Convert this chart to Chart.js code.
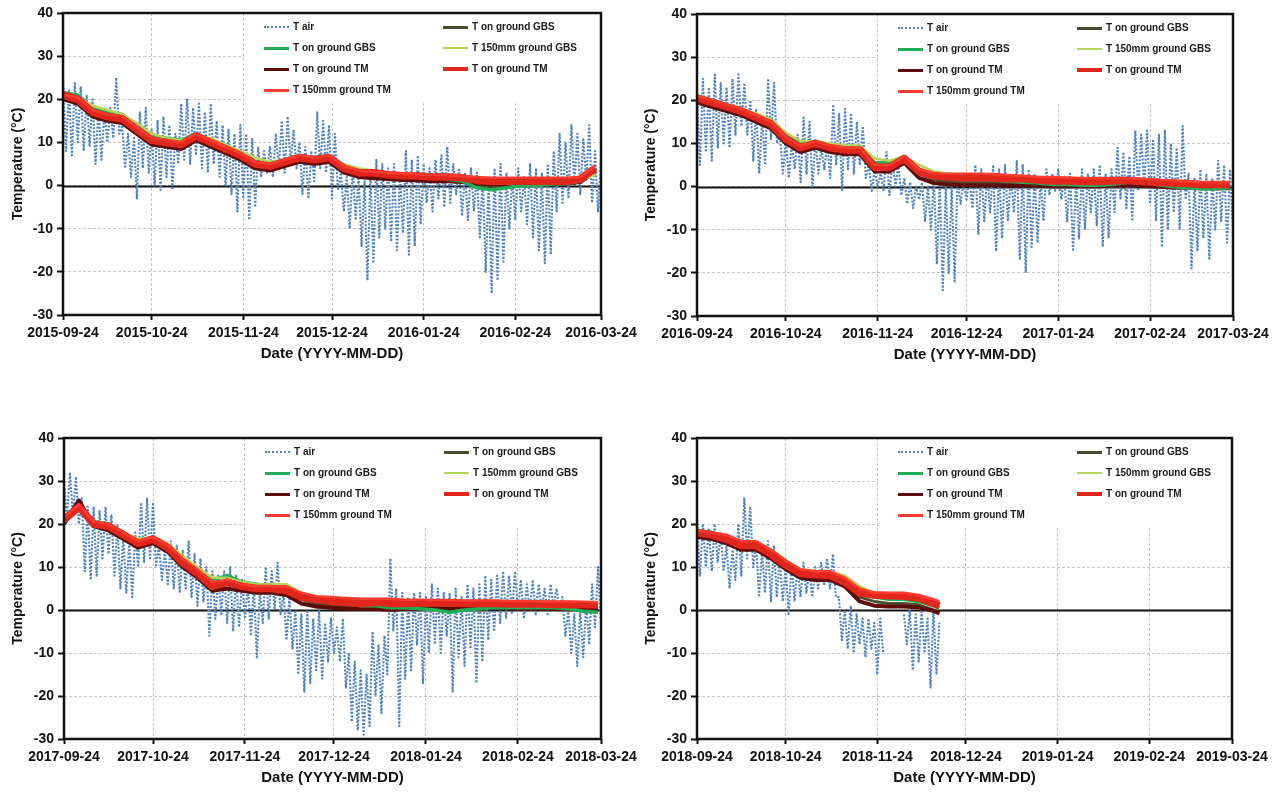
<!DOCTYPE html>
<html>
<head>
<meta charset="utf-8">
<title>Air and ground temperatures, four winters</title>
<script src="https://cdn.jsdelivr.net/npm/chart.js@4.4.1/dist/chart.umd.min.js"></script>
<style>
  html, body { margin: 0; padding: 0; background: #fff; }
  body { width: 1278px; height: 794px; position: relative; overflow: hidden;
         font-family: "Liberation Sans", Arial, sans-serif; }
  canvas { position: absolute; }
  .lg { position: absolute; height: 12px; line-height: 12px; white-space: nowrap;
        font: bold 10px "Liberation Sans", Arial, sans-serif; color: #1a1a1a; }
  .lg .s { position: absolute; left: 0; width: 25px; height: 0; }
  .lg .t { position: absolute; left: 29px; top: 0; }
</style>
</head>
<body>
<canvas id="c1"></canvas>
<canvas id="c2"></canvas>
<canvas id="c3"></canvas>
<canvas id="c4"></canvas>
<div id="legends"></div>
<script>
// ---- data (x = days after the 24 Sep start) ----

const legendNames = ['T air', 'T on ground GBS', 'T on ground GBS', 'T 150mm ground GBS',
                     'T on ground TM', 'T on ground TM', 'T 150mm ground TM'];

const tickLabels1 = ['2015-09-24', '2015-10-24', '2015-11-24', '2015-12-24', '2016-01-24', '2016-02-24', '2016-03-24'];
const tickLabels2 = ['2016-09-24', '2016-10-24', '2016-11-24', '2016-12-24', '2017-01-24', '2017-02-24', '2017-03-24'];
const tickLabels3 = ['2017-09-24', '2017-10-24', '2017-11-24', '2017-12-24', '2018-01-24', '2018-02-24', '2018-03-24'];
const tickLabels4 = ['2018-09-24', '2018-10-24', '2018-11-24', '2018-12-24', '2019-01-24', '2019-02-24', '2019-03-24'];
const tickDays1 = [0, 30, 61, 91, 122, 153, 182];
const tickDays2 = [0, 30, 61, 91, 122, 153, 181];
const tickDays3 = [0, 30, 61, 91, 122, 153, 181];
const tickDays4 = [0, 30, 61, 91, 122, 153, 181];
const yTicks = [-30, -20, -10, 0, 10, 20, 30, 40];

// T air, one reading per day (day highs / night lows alternate)
const air1 = [25, 8, 22, 7, 24, 10, 23, 8, 21, 9,
  20, 5, 18, 6, 17, 10, 18, 11, 25, 12,
  14, 4, 12, 2, 11, -3, 17, 4, 18, 3,
  13, 0, 15, -1, 16, 2, 14, -1, 12, 5,
  19, 6, 20, 5, 18, 7, 19, 4, 17, 3,
  19, 5, 15, 2, 14, 0, 13, -2, 12, -6,
  14, -3, 12, -8, 11, -5, 9, 2, 8, 3,
  9, 2, 12, 4, 15, 3, 16, 5, 13, 4,
  10, -2, 9, -3, 8, 1, 17, 4, 15, 3,
  14, -3, 12, -1, 3, -6, 2, -10, 4, -8,
  2, -14, 1, -22, 3, -18, 6, -12, 5, -10,
  4, -13, 5, -15, 3, -11, 8, -16, 6, -14,
  7, -9, 5, -4, 4, -6, 6, -3, 7, -5,
  9, -4, 5, -2, 4, -7, 3, -8, 4, -6,
  3, -12, 2, -20, 1, -25, 4, -22, 5, -18,
  3, -10, 2, -8, 4, -6, 2, -9, 5, -12,
  4, -15, 3, -18, 5, -16, 8, -6, 12, -4,
  10, -3, 14, 0, 12, -2, 11, 1, 14, -4,
  8, -6, 6];
const air2 = [22, 5, 25, 8, 23, 6, 26, 9, 24, 10,
  23, 9, 25, 12, 26, 14, 24, 12, 20, 6,
  18, 3, 16, 5, 25, 11, 24, 10, 12, 3,
  11, 2, 10, 4, 12, 1, 16, 3, 15, 0,
  11, 3, 9, 4, 10, 2, 19, 5, 17, -1,
  18, 4, 17, 3, 15, 5, 14, 2, 5, -1,
  4, 0, 3, -1, 8, -2, 6, 0, 5, -2,
  2, -4, 1, -5, 0, -3, 1, -8, 0, -10,
  2, -18, 1, -24, 0, -20, 0, -22, 2, -4,
  1, -3, 2, -5, 5, -11, 4, -8, 3, -6,
  5, -15, 4, -12, 5, -8, 3, -6, 6, -17,
  5, -20, 4, -14, 3, -13, 2, -8, 4, -2,
  3, -1, 4, -3, 2, -8, 3, -15, 2, -12,
  4, -10, 3, -6, 4, -9, 5, -14, 3, -12,
  4, -6, 9, -3, 8, -5, 7, -8, 13, -1,
  12, 0, 13, -4, 11, -8, 12, -14, 13, -10,
  10, -6, 9, -10, 14, -3, 3, -19, 2, -15,
  4, -12, 3, -17, 2, -10, 6, -8, 5, -13,
  4, -10];
const air3 = [30, 21, 32, 22, 31, 20, 26, 9, 24, 7,
  24, 8, 23, 12, 24, 13, 22, 8, 20, 5,
  17, 4, 16, 3, 18, 10, 25, 11, 26, 12,
  25, 10, 15, 7, 14, 6, 16, 5, 15, 4,
  14, 5, 16, 3, 13, 1, 12, 2, 10, -6,
  9, -2, 8, -1, 9, -3, 10, -5, 8, -4,
  7, -2, 6, -6, 6, -11, 5, -3, 10, -2,
  9, 0, 11, -1, 4, -7, 3, -9, 0, -15,
  -1, -19, 0, -17, -2, -14, 0, -16, -3, -12,
  -2, -10, -4, -12, -2, -18, -10, -26, -12, -28,
  -14, -29, -15, -27, -5, -20, -8, -24, -6, -15,
  12, -5, 5, -27, 4, -16, 3, -14, 4, -8,
  4, -17, 3, -10, 6, -8, 5, -10, 4, -6,
  4, -19, 5, -11, 3, -13, 6, -9, 5, -17,
  6, -12, 8, -7, 7, -5, 8, -3, 9, -2,
  8, -1, 9, 0, 7, -2, 6, 0, 7, -1,
  6, 0, 5, -1, 6, 1, 5, 0, 3, -6,
  0, -10, -1, -13, 0, -11, 2, -8, 6, -4,
  10, -3];
const air4 = [21, 8, 20, 10, 19, 9, 20, 11, 18, 9,
  15, 5, 14, 7, 20, 8, 26, 12, 24, 10,
  15, 3, 14, 4, 16, 2, 15, 3, 12, 2,
  10, -1, 11, 2, 10, 3, 11, 4, 9, 3,
  10, 5, 11, 6, 12, 5, 13, 3, 3, -7,
  0, -9, 1, -10, -1, -8, -2, -11, -2, -9,
  -3, -15, -2, -10, null, null, null, null, null, null,
  -1, -8, 0, -14, -1, -12, 0, -10, -2, -18,
  0, -15, -3];

// ground sensors, one reading every 5 days
const gDays1 = [0, 5, 10, 15, 20, 25, 30, 35, 40, 45, 50, 55, 60, 65, 70, 75, 80, 85, 90,
  95, 100, 105, 110, 115, 120, 125, 130, 135, 140, 145, 150, 155, 160, 165, 170, 175, 180];
const gDays2 = gDays1;
const gDays3 = gDays1;
const gDays4 = [0, 5, 10, 15, 20, 25, 30, 35, 40, 45, 50, 55, 60, 65, 70, 75, 80, 82];

const gbsA1 = [20.5, 19.5, 17, 16, 15, 12.5, 10, 9.5, 9, 11, 9.5, 8, 6.5, 4.5, 4, 5, 6, 5.5, 6,
  3.5, 2.5, 2.2, 2, 1.8, 1.6, 1.5, 1.3, 1, 0, -0.5, 0, 0.2, 0.3, 0.3, 0.5, 0.8, 3];
const gbsB1 = [21.5, 21, 18, 17, 16.5, 14, 11.5, 11, 10.5, 12, 10.5, 9, 7.5, 5.5, 5, 6, 7, 6.5, 7,
  4.5, 3.5, 3, 2.5, 2.3, 2, 2, 1.5, 1, -0.5, -1, -0.5, 0, 0, 0.3, 0.5, 1, 3];
const gbs150_1 = [21, 20.5, 18.5, 17.5, 16.5, 14.5, 12, 11, 10.5, 11.5, 11, 9.5, 8, 6.5, 5.5, 6, 6.5, 6.5, 6.5,
  5, 4, 3.5, 3, 2.8, 2.6, 2.5, 2.3, 2.1, 1.5, 1.2, 1.2, 1.2, 1.2, 1.2, 1.2, 1.3, 2.5];
const tmA1 = [20, 19, 16, 15, 14.5, 12, 9.5, 9, 8.5, 10.5, 9, 7.5, 6, 4, 3.5, 4.5, 5.5, 5, 5.5,
  3, 2, 1.7, 1.5, 1.3, 1.2, 1, 1, 0.8, 0.5, 0.3, 0.3, 0.3, 0.3, 0.3, 0.5, 0.8, 3.5];
const tmB1 = [21, 20, 17, 16, 15.5, 13, 10.5, 10, 9.5, 11.5, 10, 8.5, 7, 5, 4.5, 5.5, 6.5, 6, 6.5,
  4, 3, 3, 2.5, 2.3, 2.2, 2, 2, 1.8, 1.2, 1, 1, 1, 1, 1, 1, 1.5, 4];
const tm150_1 = [21, 20.5, 17.5, 16.5, 16, 13.5, 11, 10.5, 10, 12, 10.5, 9, 7.5, 5.5, 5, 6, 7, 6.5, 7,
  4.5, 3.5, 3.2, 3, 2.8, 2.6, 2.5, 2.4, 2.2, 2, 1.8, 1.8, 1.8, 1.8, 1.8, 1.8, 2, 4.5];

const gbsA2 = [20, 19, 18, 17, 15.5, 14, 10.5, 8.5, 9.5, 8.5, 8, 8, 4, 4, 6, 3, 1.5, 1.2, 1,
  0.8, 0.8, 0.6, 0.5, 0.4, 0.3, 0.3, 0.3, 0.3, 0.4, 0.5, 0.5, 0.3, 0.1, 0, 0, 0, 0];
const gbsB2 = [21, 20, 19, 18, 16.5, 15.5, 12, 10, 10.5, 9.5, 9, 9, 5.5, 5.5, 7, 4, 2.5, 2, 1.5,
  1.5, 1.5, 1.3, 1, 0.8, 0.5, 0.5, 0.3, 0.3, 0.5, 1, 1.5, 0.5, 0, -0.3, -0.5, -0.5, -0.3];
const gbs150_2 = [20.5, 20, 19, 18, 17, 15.5, 12.5, 10.5, 10.5, 10, 9.5, 9.5, 6.5, 6, 7, 5, 3.5, 3, 3,
  2.8, 2.7, 2.5, 2.3, 2, 1.8, 1.7, 1.6, 1.5, 1.5, 1.5, 1.5, 1.3, 1.2, 1.1, 1, 1, 1];
const tmA2 = [19.5, 18.5, 17.5, 16.5, 15, 13.5, 10, 8, 9, 8, 7.5, 7.5, 3.5, 3.5, 5.5, 2, 0.8, 0.5, 0.3,
  0.3, 0.3, 0.2, 0.2, 0.2, 0.1, 0.1, 0.1, 0.1, 0.2, 0.3, 0.2, 0, -0.2, -0.3, -0.4, -0.4, -0.4];
const tmB2 = [20.5, 19.5, 18.5, 17.5, 16, 14.5, 11, 9, 10, 9, 8.5, 8.5, 4.5, 4.5, 6.5, 3.5, 2.5, 2.2, 2,
  2, 2, 1.8, 1.8, 1.5, 1.3, 1.3, 1.2, 1.2, 1.3, 1.4, 1.2, 1, 0.8, 0.7, 0.5, 0.5, 0.5];
const tm150_2 = [21, 20, 19, 18, 16.5, 15, 11.5, 9.5, 10.5, 9.5, 9, 9, 5, 5, 7, 4, 3, 3, 3,
  3, 2.9, 2.7, 2.5, 2.3, 2.2, 2.1, 2, 2, 2, 2, 1.8, 1.6, 1.4, 1.2, 1, 1, 1];

const gbsA3 = [20.5, 24, 19.5, 19, 17, 15, 16, 14, 10.5, 8, 5, 6, 5, 4.5, 4.5, 4, 2.5, 1.5, 1,
  0.8, 0.6, 0.6, 0.2, 0.5, 0.5, 0.5, 0.5, 0.5, 0.6, 0.6, 0.6, 0.6, 0.6, 0.5, 0.5, 0.4, 0.4];
const gbsB3 = [21, 24, 20.5, 20, 18, 16, 17, 15, 12, 9.5, 7, 8, 6.5, 6, 5.5, 5.5, 3.5, 2.5, 2,
  1.5, 1, 1, 0.5, 0.5, 0.3, 0, -0.5, 0, 0.3, 0.5, 0.5, 0.5, 0.5, 0.5, 0.3, -0.3, -0.5];
const gbs150_3 = [20.5, 23, 20.5, 20, 18, 16.5, 17, 15.5, 12.5, 10, 7.5, 7.5, 6.5, 6, 6, 6, 4, 3, 2.5,
  2.3, 2, 2, 2, 1.8, 1.8, 1.8, 1.8, 1.8, 1.8, 1.8, 1.7, 1.7, 1.6, 1.6, 1.5, 1.5, 1.5];
const tmA3 = [20, 25.5, 19.5, 18.5, 16.5, 14.5, 15.5, 13.5, 10, 7.5, 4.5, 5, 4.5, 4, 4, 3.5, 1.5, 0.8, 0.5,
  0.3, 0.3, 0.3, 0, 0.3, 0.3, 0.3, 0.3, 0.3, 0.4, 0.4, 0.4, 0.3, 0.3, 0.3, 0.2, 0.2, 0.2];
const tmB3 = [21, 24, 20, 19.5, 17.5, 15.5, 16.5, 14.5, 11, 8.5, 5.5, 6.5, 5.5, 5, 5, 4.5, 3, 2.5, 2,
  1.8, 1.5, 1.8, 1.5, 1.5, 1.6, 1.6, 1.6, 1.5, 1.5, 1.5, 1.4, 1.4, 1.4, 1.3, 1.3, 1.2, 1.2];
const tm150_3 = [21.5, 24.5, 20.5, 20, 18, 16, 17, 15, 12, 9.5, 6.5, 7, 6, 5.5, 5.5, 5.5, 4, 3.2, 3,
  2.8, 2.6, 2.6, 2.6, 2.4, 2.4, 2.3, 2.3, 2.2, 2.2, 2.2, 2.1, 2.1, 2, 2, 2, 1.9, 1.8];

const gbsA4 = [17.5, 17, 16, 14.5, 14.5, 12.5, 10, 8, 7.5, 7.5, 6, 3, 2, 1.5, 1.5, 1.2, 0, -0.5];
const gbsB4 = [18.5, 18, 17, 15.5, 15.5, 14, 11.5, 9, 8.5, 8.5, 7.5, 4.5, 3, 2.5, 2.5, 2, 1, 0.5];
const gbs150_4 = [18, 17.5, 17, 15.5, 15.5, 14, 11.5, 9.5, 9, 9, 8, 5.5, 4, 3.5, 3.5, 3, 2, 1.5];
const tmA4 = [17, 16.5, 15.5, 14, 14, 12, 9.5, 7.5, 7, 7, 5.5, 2, 1, 0.8, 0.8, 0.6, -0.2, -0.8];
const tmB4 = [18, 17.5, 16.5, 15, 15, 13, 10.5, 8.5, 8.2, 8, 6.5, 4, 3.5, 3.3, 3.2, 2.8, 1.5, 1];
const tm150_4 = [18.5, 18, 17.5, 16, 16, 14, 11.5, 9.5, 9, 9, 7.5, 5, 4, 4, 4, 3.5, 2.5, 2];

// ---- presentation ----

const FONT = '"Liberation Sans", Arial, sans-serif';
Chart.defaults.font.family = FONT;
Chart.defaults.color = '#111';

// colour / width / draw order per series (same order as legendNames)
const looks = [
  {color: '#4f81bd', w: 2.1, dash: [2, 1.6], order: 7, key: 2},
  {color: '#4d4d30', w: 3,   order: 6, key: 3},
  {color: '#1fae55', w: 3.5, order: 4, key: 3},
  {color: '#b5d55a', w: 2.5, order: 3, key: 2},
  {color: '#5e0b0b', w: 4,   order: 5, key: 3},
  {color: '#e3261b', w: 7.5, order: 2, key: 4},
  {color: '#ff3b30', w: 2.5, order: 1, key: 3}
];

const panels = [
  {id: 'c1', left: 0,   top: 0,   w: 650, h: 365, padTop: 13, padRight: 49, axisW: 63, yTitlePad: 10,
   labels: tickLabels1, days: tickDays1, air: air1, gDays: gDays1, ground: [gbsA1, gbsB1, gbs150_1, tmA1, tmB1, tm150_1]},
  {id: 'c2', left: 640, top: 0,   w: 638, h: 366, padTop: 14, padRight: 45, axisW: 57, yTitlePad: 3,
   labels: tickLabels2, days: tickDays2, air: air2, gDays: gDays2, ground: [gbsA2, gbsB2, gbs150_2, tmA2, tmB2, tm150_2]},
  {id: 'c3', left: 0,   top: 420, w: 650, h: 369, padTop: 18, padRight: 49, axisW: 64, yTitlePad: 10,
   labels: tickLabels3, days: tickDays3, air: air3, gDays: gDays3, ground: [gbsA3, gbsB3, gbs150_3, tmA3, tmB3, tm150_3]},
  {id: 'c4', left: 640, top: 420, w: 638, h: 369, padTop: 18, padRight: 46, axisW: 57, yTitlePad: 3,
   labels: tickLabels4, days: tickDays4, air: air4, gDays: gDays4, ground: [gbsA4, gbsB4, gbs150_4, tmA4, tmB4, tm150_4]}
];

// white legend backdrop, zero line and the black frame
const framePlugin = {
  id: 'frame',
  beforeDatasetsDraw(chart) {
    const {ctx, chartArea: a, scales: {y}} = chart;
    ctx.save();
    ctx.fillStyle = '#fff';
    ctx.fillRect(a.left + 181, a.top + 1, a.right - a.left - 182, 88);
    const y0 = Math.round(y.getPixelForValue(0)) + 0.5;
    ctx.strokeStyle = '#111';
    ctx.lineWidth = 2.2;
    ctx.beginPath();
    ctx.moveTo(a.left, y0);
    ctx.lineTo(a.right, y0);
    ctx.stroke();
    ctx.restore();
  },
  afterDatasetsDraw(chart) {
    const {ctx, chartArea: a} = chart;
    ctx.save();
    ctx.strokeStyle = '#111';
    ctx.lineWidth = 2.5;
    ctx.strokeRect(a.left, a.top, a.right - a.left, a.bottom - a.top);
    ctx.restore();
  }
};

const legendRows = [14, 35, 56, 77];
const legendCols = [201, 380];
const legendHost = document.getElementById('legends');

panels.forEach(p => {
  const cv = document.getElementById(p.id);
  cv.width = p.w; cv.height = p.h;
  cv.style.left = p.left + 'px'; cv.style.top = p.top + 'px';

  const series = [p.air].concat(p.ground);
  const datasets = series.map((vals, k) => {
    const lk = looks[k];
    const pts = k === 0 ? vals.map((v, i) => ({x: i, y: v}))
                        : vals.map((v, i) => ({x: p.gDays[i], y: v}));
    return {
      label: legendNames[k],
      data: pts,
      borderColor: lk.color,
      borderWidth: lk.w,
      borderDash: lk.dash || [],
      pointRadius: 0,
      tension: 0,
      spanGaps: false,
      order: lk.order,
      borderJoinStyle: 'round'
    };
  });

  const chart = new Chart(cv, {
    type: 'line',
    data: {datasets},
    plugins: [framePlugin],
    options: {
      responsive: false,
      animation: false,
      devicePixelRatio: 1,
      layout: {padding: {left: 0, top: p.padTop, right: p.padRight, bottom: 0}},
      plugins: {legend: {display: false}, tooltip: {enabled: false}},
      scales: {
        x: {
          type: 'linear',
          min: 0, max: p.days[p.days.length - 1],
          afterBuildTicks: s => { s.ticks = p.days.map(v => ({value: v})); },
          afterFit: s => { s.height = 50; },
          ticks: {
            autoSkip: false, maxRotation: 0, padding: 5,
            font: {size: 14, weight: 'bold'}, color: '#111',
            callback: (v, i) => p.labels[i]
          },
          grid: {color: '#c4c4c4', lineWidth: 1, tickLength: 5, tickColor: '#111', tickWidth: 2},
          border: {display: false, dash: [3, 2]},
          title: {display: true, text: 'Date (YYYY-MM-DD)', color: '#111',
                  font: {size: 15, weight: 'bold'}, padding: {top: 0, bottom: 2}}
        },
        y: {
          min: -30, max: 40,
          afterBuildTicks: s => { s.ticks = yTicks.map(v => ({value: v})); },
          afterFit: s => { s.width = p.axisW; },
          ticks: {padding: 4, font: {size: 14, weight: 'bold'}, color: '#111', callback: v => String(v)},
          grid: {color: '#c4c4c4', lineWidth: 1, tickLength: 6, tickColor: '#111', tickWidth: 2},
          border: {display: false, dash: [3, 2]},
          title: {display: true, text: 'Temperature (\u00B0C)', color: '#111',
                  font: {size: 14, weight: 'bold'}, padding: {top: p.yTitlePad, bottom: 0}}
        }
      }
    }
  });

  // two-column legend over the white box, laid out like the original
  const a = chart.chartArea;
  legendNames.forEach((name, k) => {
    const lk = looks[k];
    const col = k % 2, row = Math.floor(k / 2);
    const d = document.createElement('div');
    d.className = 'lg';
    d.style.left = (p.left + a.left + legendCols[col]) + 'px';
    d.style.top = (p.top + a.top + legendRows[row] - 6) + 'px';
    const s = document.createElement('span');
    s.className = 's';
    s.style.borderTop = lk.key + 'px ' + (k === 0 ? 'dotted ' : 'solid ') + lk.color;
    s.style.top = (6 - lk.key / 2) + 'px';
    const t = document.createElement('span');
    t.className = 't';
    t.textContent = name;
    d.appendChild(s); d.appendChild(t);
    legendHost.appendChild(d);
  });
});
</script>
</body>
</html>
